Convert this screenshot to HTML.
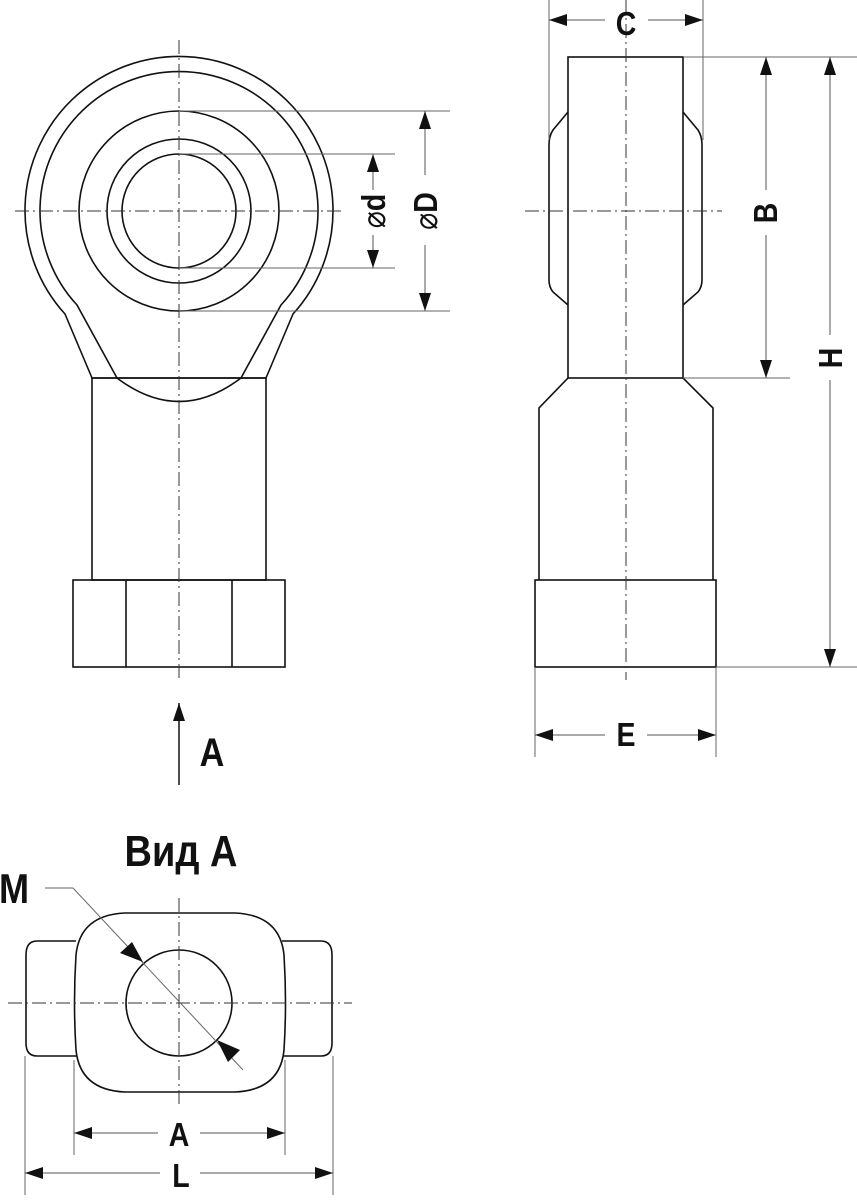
<!DOCTYPE html>
<html><head><meta charset="utf-8"><style>
html,body{margin:0;padding:0;background:#fff}
svg{display:block}
text{font-family:"Liberation Sans Narrow","Liberation Sans",sans-serif;font-weight:bold;fill:#111}
</style></head><body>
<svg width="857" height="1200" viewBox="0 0 857 1200" xmlns="http://www.w3.org/2000/svg">
<defs>
<marker id="ar" viewBox="0 0 18 12" refX="18" refY="6" markerWidth="18" markerHeight="12" markerUnits="userSpaceOnUse" orient="auto"><path d="M0,0 L18,6 L0,12 z" fill="#111"/></marker>
</defs>
<g fill="none" stroke="#111" stroke-width="1.6">
<path d="M92,378 L65,314 A154,154 0 1 1 293,314 L266,378 Z" fill="#fff"/>
<path d="M117,378 L77,305 A139,139 0 1 1 281,305 L241,378"/>
<path d="M117,378 Q179,425 241,378"/>
<circle cx="179" cy="211" r="100"/>
<circle cx="179" cy="211" r="72"/>
<circle cx="179" cy="211" r="57"/>
<rect x="92" y="378" width="174" height="202"/>
<rect x="73" y="580" width="212" height="87"/>
<line x1="126" y1="580" x2="126" y2="667"/>
<line x1="232" y1="580" x2="232" y2="667"/>
<rect x="568" y="57" width="115" height="321"/>
<path d="M568,112 L553,130 Q549,136 549,145 L549,280 Q549,287 553,292 L568,305"/>
<path d="M683,112 L698,130 Q702,136 702,145 L702,280 Q702,287 698,292 L683,305"/>
<path d="M568,378 L539,408 L539,580 M683,378 L713,408 L713,580"/>
<rect x="535" y="580" width="181" height="87"/>
<path d="M76,941 L37,941 Q26,941 26,955 L26,1043 Q26,1056 37,1056 L78,1056"/>
<path d="M282,941 L321,941 Q332,941 332,955 L332,1043 Q332,1056 321,1056 L280,1056"/>
<path d="M125,913 L235,913 Q280,915 284,955 Q287,1003 284,1050 Q280,1090 235,1092 L125,1092 Q80,1090 76,1050 Q73,1003 76,955 Q80,915 125,913 Z" fill="#fff"/>
<circle cx="179" cy="1003" r="53"/>
</g>
<g stroke="#333" stroke-width="1" stroke-dasharray="14,4,2,4" fill="none">
<line x1="179" y1="40" x2="179" y2="680"/>
<line x1="15" y1="211" x2="342" y2="211"/>
<line x1="626" y1="0" x2="626" y2="680"/>
<line x1="525" y1="211" x2="722" y2="211"/>
<line x1="179" y1="898" x2="179" y2="1105"/>
<line x1="8" y1="1003" x2="352" y2="1003"/>
</g>
<g stroke="#666" stroke-width="1" fill="none">
<line x1="179" y1="111" x2="450" y2="111"/>
<line x1="179" y1="311" x2="450" y2="311"/>
<line x1="179" y1="154" x2="395" y2="154"/>
<line x1="179" y1="268" x2="395" y2="268"/>
<line x1="549" y1="0" x2="549" y2="140"/>
<line x1="703" y1="0" x2="703" y2="140"/>
<line x1="683" y1="57" x2="857" y2="57"/>
<line x1="683" y1="378" x2="790" y2="378"/>
<line x1="716" y1="667" x2="857" y2="667"/>
<line x1="535" y1="667" x2="535" y2="757"/>
<line x1="716" y1="667" x2="716" y2="757"/>
<line x1="74" y1="1060" x2="74" y2="1155"/>
<line x1="285" y1="1060" x2="285" y2="1155"/>
<line x1="25" y1="1056" x2="25" y2="1195"/>
<line x1="333" y1="1056" x2="333" y2="1195"/>
<polyline points="45,888 73,888 243,1070"/>
</g>
<g stroke="#555" stroke-width="1" fill="none" marker-end="url(#ar)">
<line x1="373" y1="190" x2="373" y2="154"/>
<line x1="373" y1="235" x2="373" y2="268"/>
<line x1="425" y1="175" x2="425" y2="111"/>
<line x1="425" y1="245" x2="425" y2="311"/>
<line x1="605" y1="20" x2="549" y2="20"/>
<line x1="648" y1="20" x2="703" y2="20"/>
<line x1="766" y1="190" x2="766" y2="57"/>
<line x1="766" y1="235" x2="766" y2="378"/>
<line x1="830" y1="335" x2="830" y2="57"/>
<line x1="830" y1="380" x2="830" y2="667"/>
<line x1="605" y1="735" x2="535" y2="735"/>
<line x1="647" y1="735" x2="716" y2="735"/>
<line x1="158" y1="1133" x2="74" y2="1133"/>
<line x1="200" y1="1133" x2="285" y2="1133"/>
<line x1="160" y1="1173" x2="25" y2="1173"/>
<line x1="200" y1="1173" x2="333" y2="1173"/>
<line x1="179" y1="785" x2="179" y2="703" stroke="#111" stroke-width="1.5"/>
</g>
<path d="M143,962 L120,953 L132,942 Z" fill="#111"/>
<path d="M217,1040 L240,1050 L228,1062 Z" fill="#111"/>
<text transform="translate(212,766) scale(0.95,1.1)" font-size="36" text-anchor="middle">A</text>
<text transform="translate(181,866) scale(0.95,1.1)" font-size="40" text-anchor="middle">Вид A</text>
<text transform="translate(14,903) scale(0.95,1.1)" font-size="38" text-anchor="middle">M</text>
<text transform="translate(179,1146) scale(0.95,1.1)" font-size="30" text-anchor="middle">A</text>
<text transform="translate(181,1187) scale(0.95,1.1)" font-size="30" text-anchor="middle">L</text>
<text transform="translate(626,35) scale(0.95,1.1)" font-size="30" text-anchor="middle">C</text>
<text transform="translate(626,746) scale(0.95,1.1)" font-size="30" text-anchor="middle">E</text>
<text transform="translate(777,213) rotate(-90) scale(0.95,1.1)" font-size="30" text-anchor="middle">B</text>
<text transform="translate(842,358) rotate(-90) scale(0.95,1.1)" font-size="30" text-anchor="middle">H</text>
<text transform="translate(385,211) rotate(-90) scale(0.95,1.1)" font-size="30" text-anchor="middle"><tspan font-weight="normal">⌀</tspan>d</text>
<text transform="translate(437,211) rotate(-90) scale(0.95,1.1)" font-size="30" text-anchor="middle"><tspan font-weight="normal">⌀</tspan>D</text>
</svg>
</body></html>
